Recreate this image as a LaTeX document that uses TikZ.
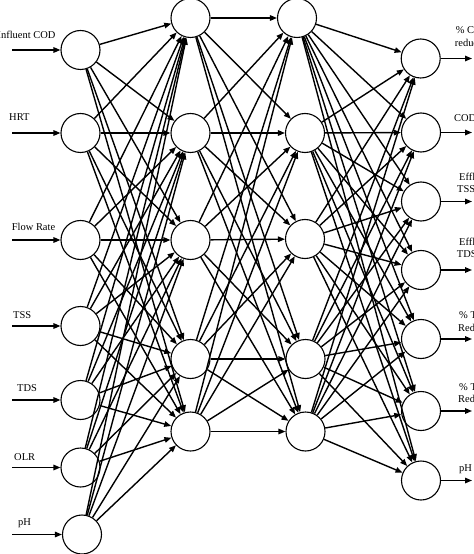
\documentclass[tikz,border=0pt]{standalone}
\usepackage{fontspec}
\setmainfont{Liberation Serif}
\usetikzlibrary{arrows.meta}
\begin{document}
\begin{tikzpicture}[x=1bp,y=-1bp,
  neuron/.style={circle,draw,line width=1.1bp,minimum size=39bp,inner sep=0pt,fill=white},
  link/.style={line width=1.4bp,-{Triangle[length=7bp,width=5.5bp]}},
  lbl/.style={anchor=base west,inner sep=0pt,font=\fontsize{10.5}{13}\selectfont}]
\useasboundingbox (0,0) rectangle (474,554);
% input layer
\foreach \i/\x/\y in {1/80.5/50,2/80.5/133,3/80.5/240,4/80.5/326,5/80.5/400,6/80.5/467.5,7/82/534.5}{
  \node[neuron] (in\i) at (\x,\y) {};
  \coordinate (s\i) at (12,\y);
}
% hidden layer 1
\foreach \i/\x/\y in {1/190.5/18,2/190.5/133,3/190.5/240,4/190.5/359,5/190.5/431.5}{
  \node[neuron] (ha\i) at (\x,\y) {};
}
% hidden layer 2
\foreach \i/\x/\y in {1/297/18,2/305/133,3/305/239,4/305.5/359,5/305.5/431.5}{
  \node[neuron] (hb\i) at (\x,\y) {};
}
% output layer
\foreach \i/\x/\y in {1/420.7/58.5,2/421/132.5,3/421/201.5,4/421/270,5/421/339,6/421/411,7/421/480.5}{
  \node[neuron] (o\i) at (\x,\y) {};
  \coordinate (e\i) at (472,\y);
}
% connections
\foreach \i in {1,...,7}{
  \draw[link] (s\i) -- (in\i);
  \draw[link] (o\i) -- (e\i);
  \foreach \j in {1,...,5}{
    \draw[link] (in\i) -- (ha\j);
    \draw[link] (hb\j) -- (o\i);
  }
}
\foreach \i in {1,...,5}{
  \foreach \j in {1,...,5}{
    \draw[link] (ha\i) -- (hb\j);
  }
}
% input labels
\node[lbl] (l1) at (-2.6,38.5) {Influent COD};
\node[lbl] (l2) at (9,120.5) {HRT};
\node[lbl] (l3) at (11.7,230.5) {Flow Rate};
\node[lbl] (l4) at (13,318) {TSS};
\node[lbl] (l5) at (17,391.5) {TDS};
\node[lbl] (l6) at (14,460.5) {OLR};
\node[lbl] (l7) at (18,525.5) {pH};
% output labels
\node[lbl] (r1a) at (455.7,33.5) {\% COD};
\node[lbl] (r1b) at (454.7,46.2) {reduction};
\node[lbl] (r2) at (454,121.2) {COD};
\node[lbl] (r3a) at (459,180.2) {Effluent};
\node[lbl] (r3b) at (457,192.5) {TSS};
\node[lbl] (r4a) at (459,245.2) {Effluent};
\node[lbl] (r4b) at (456.7,257.5) {TDS};
\node[lbl] (r5a) at (459,318.5) {\% TSS};
\node[lbl] (r5b) at (458,331.5) {Reduction};
\node[lbl] (r6a) at (459,390) {\% TDS};
\node[lbl] (r6b) at (458,402.5) {Reduction};
\node[lbl] (r7) at (459,471) {pH};
\end{tikzpicture}
\end{document}
